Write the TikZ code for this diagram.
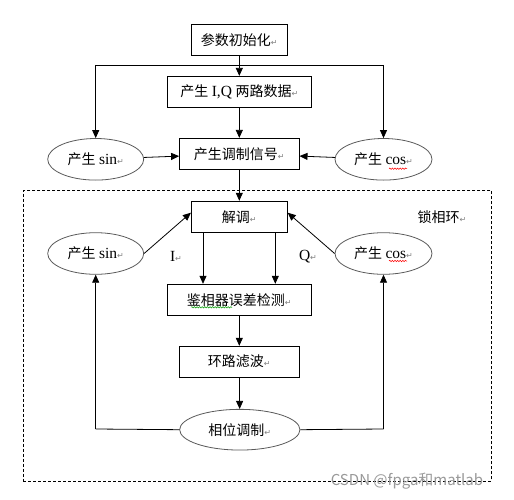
\documentclass[tikz,border=0pt]{standalone}
\usepackage{fontspec}
\setmainfont{Liberation Serif}
\newfontfamily\cjk{Noto Sans CJK SC}
\newfontfamily\dejavu{DejaVu Sans}
\usetikzlibrary{arrows.meta,shapes.geometric,decorations.pathmorphing}
\newcommand\pmk{{\dejavu\fontsize{8}{8}\selectfont\color{gray}↵}}
\newcommand\lat[1]{{\fontsize{15.5}{15.5}\selectfont #1}}
\begin{document}
\begin{tikzpicture}[x=1pt,y=-1pt,
  every node/.style={font=\fontsize{14}{14}\selectfont, inner sep=0pt},
  box/.style={draw, line width=0.8pt, minimum width=#1, minimum height=31pt},
  ell/.style={draw=black!65, line width=0.8pt, ellipse, minimum width=#1, minimum height=41.6pt},
  arr/.style={-{Triangle[length=8pt,width=7pt]}, line width=0.8pt},
  ln/.style={line width=0.8pt},
  squig/.style={decorate, decoration={snake, amplitude=0.7pt, segment length=2.6pt}, line width=0.5pt}]
\useasboundingbox (0,0) rectangle (514,500);
% loop frame
\node[draw, line width=0.7pt, dash pattern=on 3pt off 2pt, minimum width=468.4pt, minimum height=290.3pt] (pll) at (257.5,335.85) {};
\node (pllt) at (442,217.3) {{\cjk 锁相环}\pmk};
% top part
\node[box=96pt] (b1) at (239.3,39.7) {{\cjk 参数初始化}\pmk};
\node[box=144pt] (b2) at (239.3,91.8) {{\cjk 产生} \lat{I,Q} {\cjk 两路数据}\pmk};
\node[box=119.6pt] (b3) at (239.3,153.8) {{\cjk 产生调制信号}\pmk};
\node[ell=96pt] (sin1) at (95.7,159.3) {{\cjk 产生} \lat{sin}\pmk};
\node[ell=97pt] (cos1) at (383.5,159.3) {{\cjk 产生} \lat{cos}\pmk};
\coordinate (tl) at (95.7,65);
\coordinate (tr) at (383.5,65);
\draw[ln] (tl) -- (tr);
\draw[arr] (b1) -- (b2);
\draw[arr] (tl) -- (sin1);
\draw[arr] (tr) -- (cos1);
\draw[arr] (b2) -- (b3);
\draw[arr] (sin1) -- (b3);
\draw[arr] (cos1) -- (b3);
% loop
\node[box=96pt] (jt) at (239.3,216.7) {{\cjk 解调}\pmk};
\node[ell=96pt] (sin2) at (95.7,253.5) {{\cjk 产生} \lat{sin}\pmk};
\node[ell=97pt] (cos2) at (383.5,253.5) {{\cjk 产生} \lat{cos}\pmk};
\node[box=144pt] (pd) at (239.3,299.7) {{\cjk 鉴相器误差检测}\pmk};
\node[box=119.6pt] (lf) at (239.3,361.7) {{\cjk 环路滤波}\pmk};
\node[ell=120.3pt, minimum height=40.7pt] (pm) at (239.8,429.7) {{\cjk 相位调制}\pmk};
\node (il) at (176,256.7) {\lat{I}\pmk};
\node (ql) at (308,256.7) {\lat{Q}\pmk};
\draw[arr] (b3) -- (jt);
\draw[arr] (sin2.east) -- ([yshift=4pt]jt.west);
\draw[arr] (cos2.west) -- ([yshift=4pt]jt.east);
\draw[arr] ([xshift=-36.3pt]jt.south) -- ([xshift=-36.3pt]pd.north);
\draw[arr] ([xshift=36pt]jt.south) -- ([xshift=36pt]pd.north);
\draw[arr] (pd) -- (lf);
\draw[arr] (lf) -- (pm);
\coordinate (bl) at (95.7,429);
\coordinate (br) at (383.5,429);
\draw[ln] (pm.west) -- (bl);
\draw[ln] (pm.east) -- (br);
\draw[arr] (bl) -- (sin2);
\draw[arr] (br) -- (cos2);
% spell-check squiggles
\draw[squig, red] (389,168.7) -- (407,168.7);
\draw[squig, red] (389,261) -- (407,261);
\draw[squig, green!60!black] (191,307.3) -- (232,307.3);
% watermark
\node[text=black!40, font=\fontsize{15}{15}\selectfont] (wm) at (407,481) {\cjk CSDN @fpga和matlab};
\end{tikzpicture}
\end{document}
